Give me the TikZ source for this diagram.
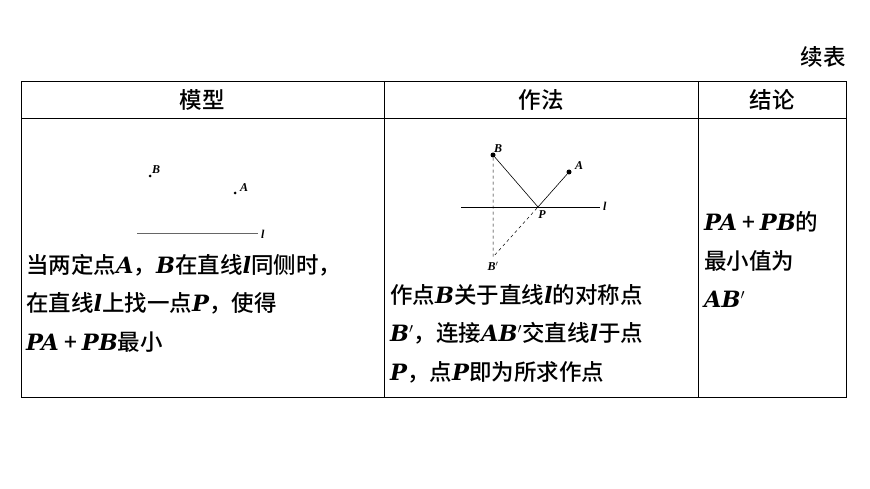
\documentclass[tikz,border=0pt]{standalone}
\usepackage{fontspec}
\setmainfont{Liberation Serif}
\newfontfamily\cjk{Noto Sans CJK SC Medium}
\newfontfamily\mathf{DejaVu Serif}
\newcommand{\mv}[1]{{\mathf\bfseries\itshape #1}}
\begin{document}
\begin{tikzpicture}[x=1pt,y=-1pt,
  txt/.style={anchor=west,inner sep=0pt,font=\cjk\fontsize{22.5}{26}\selectfont},
  lab/.style={inner sep=0pt,font=\rmfamily\itshape\bfseries\fontsize{12}{13}\selectfont},
  dot/.style={circle,fill=black,inner sep=0pt,minimum size=5pt},
  sdot/.style={circle,fill=black,inner sep=0pt,minimum size=3pt}]
\useasboundingbox (0,0) rectangle (870,489);
% table
\draw[line width=0.8pt] (21,81) rectangle (846,397);
\draw[line width=0.8pt] (21,118) -- (846,118);
\draw[line width=0.8pt] (384,81) -- (384,397) (698,81) -- (698,397);
\node[txt,anchor=east] (xb) at (846,57) {续表};
\node[txt,anchor=center] (h1) at (202,100) {模型};
\node[txt,anchor=center] (h2) at (541,100) {作法};
\node[txt,anchor=center] (h3) at (772,100) {结论};
% left figure
\node[sdot] (lb) at (150,176) {};
\node[lab,anchor=south west] at (152,174) {B};
\node[sdot] (la) at (235,193) {};
\node[lab,anchor=west] at (240,188) {A};
\coordinate (l1) at (137,233); \coordinate (l2) at (258,233);
\draw[gray!80!black,line width=0.8pt] (l1) -- (l2);
\node[lab,anchor=west] at (261,234) {l};
\node[txt] (t1) at (26,265) {当两定点\mv{A}，\mv{B}在直线\mv{l}同侧时，};
\node[txt] (t2) at (26,303) {在直线\mv{l}上找一点\mv{P}，使得};
\node[txt] (t3) at (26,342) {\mv{PA} + \mv{PB}最小};
% middle figure
\coordinate (m1) at (461,207); \coordinate (m2) at (600,207);
\draw[line width=0.6pt] (m1) -- (m2);
\node[lab,anchor=west] at (603,206) {l};
\node[dot] (B) at (493,155) {};
\node[dot] (A) at (569,172) {};
\coordinate (P) at (538,207);
\coordinate (Bp) at (493,257);
\draw[line width=0.6pt] (B) -- (P) -- (A);
\draw[dashed,line width=0.5pt] (B) -- (Bp) -- (P);
\node[lab,anchor=south west] at (494,153) {B};
\node[lab,anchor=west] at (575,166) {A};
\node[lab] at (542,215) {P};
\node[lab] at (493,266) {B$'$};
\node[txt] (m1t) at (390,295) {作点\mv{B}关于直线\mv{l}的对称点};
\node[txt] (m2t) at (390,333) {\mv{B}$'$，连接\mv{AB}$'$交直线\mv{l}于点};
\node[txt] (m3t) at (390,372) {\mv{P}，点\mv{P}即为所求作点};
% right
\node[txt] (r1) at (704,222) {\mv{PA} + \mv{PB}的};
\node[txt] (r2) at (704,261) {最小值为};
\node[txt] (r3) at (704,299) {\mv{AB}$'$};
\end{tikzpicture}
\end{document}
